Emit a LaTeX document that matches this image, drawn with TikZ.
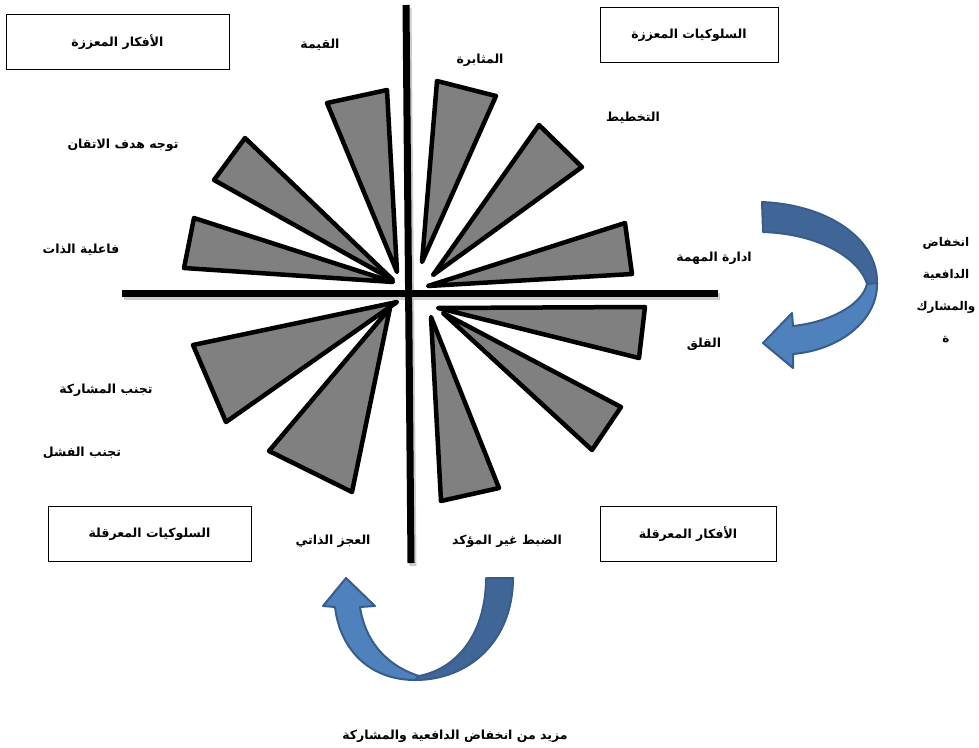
\documentclass[tikz,border=0pt]{standalone}
\usepackage{fontspec}
\newfontfamily\arabicfont[Script=Arabic]{DejaVu Sans}
\TeXXeTstate=1
\usetikzlibrary{positioning}
\newcommand{\artext}[1]{{\arabicfont\beginR #1\endR}}
\definecolor{wedgegray}{RGB}{128,128,128}
\definecolor{arrowdark}{RGB}{64,102,152}
\definecolor{arrowlight}{RGB}{79,129,189}
\definecolor{arrowline}{RGB}{56,93,138}
\tikzset{wedge/.style = {draw=black, fill=wedgegray, line width=4.5, line join=round},
  axisline/.style = {line width=7},
  quadbox/.style = {draw, line width=1, minimum height=55, font=\bfseries\fontsize{12.5}{15}\selectfont},
  lbl/.style = {inner sep=1, font=\bfseries\fontsize{12.5}{15}\selectfont},
  bandpart/.style = {draw=arrowline, line width=2, line join=round}}

\begin{document}
\begin{tikzpicture}[x=1pt, y=-1pt]
          \useasboundingbox (0, 0) rectangle (979, 747);

          % axes
          \draw [axisline, black!20] (408, 8) -- (413, 566);
          \draw [axisline, black!20] (124, 296) -- (720, 296);
          \draw [axisline] (406, 5) -- (411, 563);
          \draw [axisline] (122, 293) -- (718, 293);

          % wedges
          \draw [wedge] (327, 103) -- (387, 90) -- (397, 272) -- cycle;
          \draw [wedge] (245, 138) -- (214, 180) -- (393, 280) -- cycle;
          \draw [wedge] (194, 218) -- (184, 268) -- (393, 282) -- cycle;
          \draw [wedge] (437, 81) -- (496, 96) -- (422, 262) -- cycle;
          \draw [wedge] (539, 125) -- (582, 167) -- (433, 275) -- cycle;
          \draw [wedge] (625, 223) -- (632, 274) -- (428, 286) -- cycle;
          \draw [wedge] (193, 345) -- (226, 422) -- (397, 302) -- cycle;
          \draw [wedge] (269, 451) -- (352, 492) -- (390, 308) -- cycle;
          \draw [wedge] (438, 308) -- (645, 307) -- (639, 358) -- cycle;
          \draw [wedge] (443, 313) -- (621, 407) -- (592, 450) -- cycle;
          \draw [wedge] (431, 317) -- (499, 488) -- (441, 501) -- cycle;

          % quadrant boxes
          \node [quadbox, minimum width=223] (goodthoughts) at (117.5, 42) {\artext{الأفكار المعززة}};
          \node [quadbox, minimum width=178] (goodbehav) at (689, 35) {\artext{السلوكيات المعززة}};
          \node [quadbox, minimum width=203] (badbehav) at (149.5, 534) {\artext{السلوكيات المعرقلة}};
          \node [quadbox, minimum width=176] (badthoughts) at (688, 534) {\artext{الأفكار المعرقلة}};

          % wedge labels
          \node [lbl] (value) at (320, 45) {\artext{القيمة}};
          \node [lbl] (persist) at (480, 60) {\artext{المثابرة}};
          \node [lbl] (plan) at (633, 118) {\artext{التخطيط}};
          \node [lbl] (task) at (714, 258) {\artext{ادارة المهمة}};
          \node [lbl] (anxiety) at (704, 344) {\artext{القلق}};
          \node [lbl] (control) at (507, 541) {\artext{الضبط غير المؤكد}};
          \node [lbl] (helpless) at (333, 541) {\artext{العجز الذاتي}};
          \node [lbl] (avoidfail) at (82, 453) {\artext{تجنب الفشل}};
          \node [lbl] (avoidpart) at (106, 390) {\artext{تجنب المشاركة}};
          \node [lbl] (efficacy) at (81, 250) {\artext{فاعلية الذات}};
          \node [lbl] (mastery) at (123, 145) {\artext{توجه هدف الاتقان}};

          % right loop
          \draw [bandpart, fill=arrowdark] (762, 202) .. controls (830, 205) and (878, 240) .. (877, 283)
            -- (867, 284) .. controls (860, 260) and (822, 234) .. (763, 232) -- cycle;
          \draw [bandpart, fill=arrowlight] (877, 283) .. controls (878, 320) and (840, 350) .. (793, 354)
            -- (793, 368) -- (763, 343) -- (792, 313) -- (793, 326)
            .. controls (830, 322) and (862, 305) .. (867, 284) -- cycle;
          \node [lbl, align=center, font=\bfseries\fontsize{12}{32}\selectfont] (dropright) at (946, 290)
            {\artext{انخفاض}\\ \artext{الدافعية}\\ \artext{والمشارك}\\ \artext{ة}};

          % bottom loop
          \draw [bandpart, fill=arrowdark] (513, 578) -- (486, 578) .. controls (486, 630) and (460, 668) .. (419, 676)
            -- (415, 680) .. controls (470, 680) and (513, 640) .. (513, 578) -- cycle;
          \draw [bandpart, fill=arrowlight] (415, 680) .. controls (370, 680) and (340, 650) .. (335, 607)
            -- (323, 606) -- (346, 578) -- (375, 606) -- (360, 607)
            .. controls (365, 640) and (385, 665) .. (419, 676) -- cycle;
          \node [lbl] (dropmore) at (455, 736) {\artext{مزيد من انخفاض الدافعية والمشاركة}};
        \end{tikzpicture}
\end{document}
